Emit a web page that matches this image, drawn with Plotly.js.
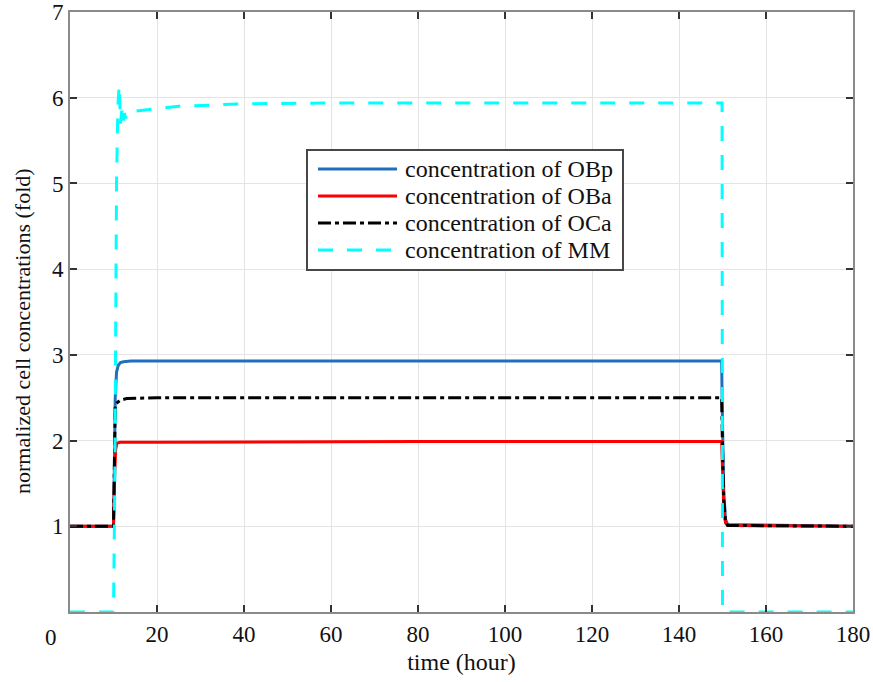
<!DOCTYPE html>
<html>
<head>
<meta charset="utf-8">
<script src="https://cdn.plot.ly/plotly-3.0.1.min.js"></script>
<style>
  html, body { margin: 0; padding: 0; background: #fff; }
  #chart { width: 873px; height: 682px; }
</style>
</head>
<body>
<div id="chart"></div>
<script>
// Simulated cell populations, normalized to baseline (fold)
const seriesNames = ['concentration of OBp', 'concentration of OBa', 'concentration of OCa', 'concentration of MM'];
const seriesColors = ['#1f6fbf', '#ff0000', '#000000', '#00ffff'];
const seriesDashes = ['solid', 'solid', '13px,4px,4px,4px', '15px,14px'];

const tOBp = [0, 10, 10.2, 10.4, 10.7, 11.1, 11.6, 12.3, 14, 20, 40, 80, 120, 149.8, 150.0, 150.3, 150.7, 151.2, 180];
const yOBp = [1, 1, 1.7, 2.5, 2.8, 2.88, 2.91, 2.92, 2.93, 2.93, 2.93, 2.93, 2.93, 2.93, 2.2, 1.4, 1.08, 1.02, 1];

const tOBa = [0, 10, 10.2, 10.5, 10.8, 11.5, 20, 80, 149.8, 150.0, 150.3, 150.7, 151.2, 180];
const yOBa = [1, 1, 1.5, 1.9, 1.97, 1.98, 1.98, 1.99, 1.99, 1.6, 1.2, 1.04, 1.01, 1];

const tOCa = [0, 10, 10.2, 10.4, 10.8, 11.5, 13, 20, 80, 149.8, 150.0, 150.3, 150.7, 151.2, 180];
const yOCa = [1, 1, 1.7, 2.42, 2.44, 2.47, 2.49, 2.5, 2.5, 2.5, 1.9, 1.3, 1.05, 1.01, 1];

const tMM = [0, 10, 10.3, 10.7, 11.0, 11.3, 11.6, 11.9, 12.2, 12.5, 12.8, 13.2, 14, 18, 25, 40, 60, 100, 149.9, 150.0, 180];
const yMM = [0, 0, 1.5, 5.0, 5.9, 6.15, 5.7, 5.85, 5.7, 5.82, 5.76, 5.84, 5.84, 5.86, 5.9, 5.93, 5.94, 5.94, 5.94, 0, 0];

const xTickVals = [0, 20, 40, 60, 80, 100, 120, 140, 160, 180];
const xTickLabels = ['0', '20', '40', '60', '80', '100', '120', '140', '160', '180'];
const yTickVals = [0, 1, 2, 3, 4, 5, 6, 7];
const yTickLabels = ['', '1', '2', '3', '4', '5', '6', '7'];

const xTitle = 'time (hour)';
const yTitle = 'normalized cell concentrations (fold)';

const SERIF = '"Liberation Serif", "Times New Roman", serif';
const TEXT = '#111';

function serifFont(size) {
  return { family: SERIF, size: size, color: TEXT };
}

const traces = [
  { x: tOBp, y: yOBp },
  { x: tOBa, y: yOBa },
  { x: tOCa, y: yOCa },
  { x: tMM, y: yMM }
].map((d, i) => ({
  x: d.x, y: d.y, name: seriesNames[i], mode: 'lines', showlegend: false,
  line: { color: seriesColors[i], width: 3, dash: seriesDashes[i] }
}));

function makeAxis(extra) {
  return Object.assign({
    showline: true, linecolor: '#8a8a8a', linewidth: 2, mirror: 'allticks',
    ticks: 'inside', ticklen: 7, tickwidth: 2, tickcolor: '#333',
    showgrid: true, gridcolor: '#e4e4e4', gridwidth: 1,
    zeroline: false, tickmode: 'array',
    tickfont: serifFont(23)
  }, extra);
}

// Boxed legend in the upper middle of the plot area (paper coordinates)
const plotL = 70, plotR = 853, plotT = 12, plotB = 612;
const px = v => (v - plotL) / (plotR - plotL);
const py = v => (plotB - v) / (plotB - plotT);
const legBox = { x0: 307, x1: 623, y0: 150, y1: 270 };
const legRowY = [169, 196, 223, 250];
const legLine = { x0: 318, x1: 397 };
const legTextX = 403;

const shapes = [{
  type: 'rect', xref: 'paper', yref: 'paper',
  x0: px(legBox.x0), x1: px(legBox.x1), y0: py(legBox.y1), y1: py(legBox.y0),
  fillcolor: '#ffffff', line: { color: '#474747', width: 2 }, layer: 'above'
}];
const annotations = [];
seriesNames.forEach((name, i) => {
  shapes.push({
    type: 'line', xref: 'paper', yref: 'paper',
    x0: px(legLine.x0), x1: px(legLine.x1), y0: py(legRowY[i]), y1: py(legRowY[i]),
    line: { color: seriesColors[i], width: 3, dash: seriesDashes[i] }, layer: 'above'
  });
  annotations.push({
    text: name, xref: 'paper', yref: 'paper', x: px(legTextX), y: py(legRowY[i]),
    xanchor: 'left', yanchor: 'middle', showarrow: false, font: serifFont(24)
  });
});

// Corner "0" label sits below-left of the origin
annotations.push({
  text: xTickLabels[0], xref: 'paper', yref: 'paper', x: 0, y: 0,
  xanchor: 'right', yanchor: 'top', xshift: -11, yshift: -11, showarrow: false,
  font: serifFont(23)
});
// Vertical axis title
annotations.push({
  text: yTitle, xref: 'paper', yref: 'paper', x: px(22), y: py(331),
  xanchor: 'center', yanchor: 'middle', textangle: -90, showarrow: false,
  font: serifFont(22)
});

const layout = {
  width: 873, height: 682,
  margin: { l: plotL, r: 873 - plotR, t: plotT, b: 682 - plotB },
  paper_bgcolor: '#fff', plot_bgcolor: '#fff',
  font: serifFont(22),
  showlegend: false,
  xaxis: makeAxis({
    range: [0, 180], tickvals: xTickVals,
    ticktext: xTickLabels.map((s, i) => i === 0 ? '' : s),
    title: { text: xTitle, font: serifFont(24), standoff: 8 }
  }),
  yaxis: makeAxis({
    range: [0, 7.001], tickvals: yTickVals, ticktext: yTickLabels
  }),
  shapes: shapes,
  annotations: annotations
};

Plotly.newPlot('chart', traces, layout, { displayModeBar: false, staticPlot: true });
</script>
</body>
</html>
